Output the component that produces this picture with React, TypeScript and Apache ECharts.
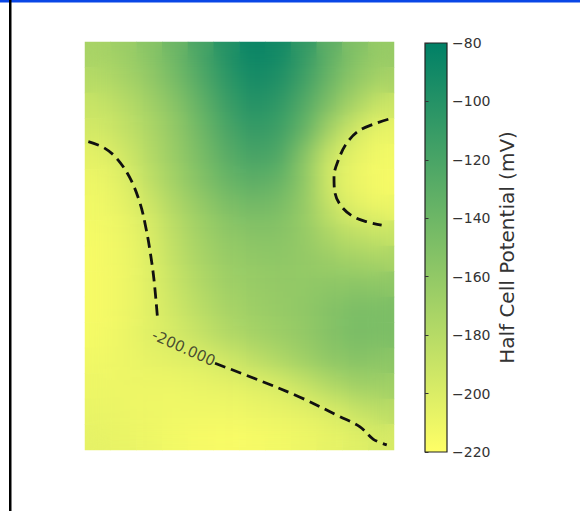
import React, { useEffect, useRef } from "react";
import * as echarts from "echarts";

// Half-cell potential field (mV), rows top -> bottom, columns left -> right
const row00 = [-172, -166, -156, -140, -120, -100, -86, -90, -108, -132, -152, -163];
const row01 = [-180, -173, -162, -146, -126, -106, -92, -97, -115, -140, -160, -172];
const row02 = [-190, -182, -170, -155, -135, -114, -100, -106, -126, -152, -175, -192];
const row03 = [-196, -188, -176, -161, -142, -122, -109, -114, -136, -172, -197, -208];
const row04 = [-205, -196, -180, -164, -147, -130, -119, -123, -155, -192, -207, -213];
const row05 = [-210, -203, -186, -169, -153, -139, -131, -136, -158, -196, -210, -215];
const row06 = [-212, -207, -195, -177, -163, -150, -144, -147, -162, -188, -204, -209];
const row07 = [-214, -210, -200, -183, -169, -159, -154, -154, -162, -176, -186, -190];
const row08 = [-215, -211, -202, -186, -173, -164, -160, -158, -161, -166, -171, -174];
const row09 = [-215, -211, -203, -190, -177, -168, -164, -161, -160, -158, -157, -158];
const row10 = [-215, -211, -204, -193, -182, -173, -167, -163, -159, -153, -148, -148];
const row11 = [-214, -210, -203, -197, -188, -178, -171, -166, -161, -153, -147, -148];
const row12 = [-212, -210, -207, -204, -201, -195, -186, -177, -168, -159, -154, -157];
const row13 = [-210, -210, -210, -210, -208, -206, -203, -199, -190, -179, -169, -168];
const row14 = [-208, -210, -211, -212, -212, -212, -210, -208, -205, -200, -191, -183];
const row15 = [-206, -208, -210, -213, -215, -216, -215, -213, -210, -207, -203, -198];
const fieldRows = [row00, row01, row02, row03, row04, row05, row06, row07, row08, row09, row10, row11, row12, row13, row14, row15];

// -200 mV contour paths, in cell units (x: column, y: row from top)
const contourLeft = [
  [0.13, 3.91], [0.71, 4.13], [1.23, 4.56], [1.75, 5.34], [2.14, 6.33],
  [2.37, 7.31], [2.55, 8.35], [2.68, 9.33], [2.81, 10.75],
];
const contourRight = [
  [11.78, 3.03], [10.68, 3.45], [10.16, 3.97], [9.84, 4.63], [9.67, 5.28],
  [9.71, 5.93], [9.97, 6.46], [10.42, 6.85], [10.94, 7.05], [11.52, 7.18],
];
const contourBottom = [
  [5.05, 12.6], [6.8, 13.28], [8.35, 13.93], [9.9, 14.69], [10.68, 15.09],
  [11.2, 15.58], [11.72, 15.8],
];
const contourLabelPoint = [[3.83, 12.0]];
const contourLevel = -200;

const colorMin = -220;
const colorMax = -80;
const colorStep = 20;
const colorbarTitle = "Half Cell Potential (mV)";
const lowColor = "#ffff66";
const highColor = "#008066";

const PLOT = { left: 85, top: 42, width: 309, height: 408 };

function heatData() {
  const out: number[][] = [];
  fieldRows.forEach((row, j) => row.forEach((v, i) => out.push([i, j, v])));
  return out;
}

function heatAxes(gridIndex: number) {
  return {
    x: { type: "category", gridIndex, data: fieldRows[0].map((_, i) => i), show: false },
    y: { type: "category", gridIndex, data: fieldRows.map((_, j) => j), inverse: true, show: false },
  };
}

const visual = {
  show: false, type: "continuous", min: colorMin, max: colorMax, seriesIndex: 0,
  inRange: { color: [lowColor, highColor] },
};

export default function App() {
  const baseRef = useRef<HTMLDivElement>(null);
  const smoothRef = useRef<HTMLDivElement>(null);
  const overRef = useRef<HTMLDivElement>(null);
  useEffect(() => {
    if (!baseRef.current || !smoothRef.current || !overRef.current) return;
    const base = echarts.init(baseRef.current, null, { renderer: "svg" });
    const smooth = echarts.init(smoothRef.current, null, { renderer: "svg" });
    const over = echarts.init(overRef.current, null, { renderer: "svg" });
    const nCols = fieldRows[0].length;
    const nRows = fieldRows.length;
    const a0 = heatAxes(0);

    base.setOption({
      animation: false,
      backgroundColor: "#ffffff",
      graphic: [
        { type: "rect", shape: { x: 0, y: 0, width: 580, height: 2.5 }, style: { fill: "#0a46e6" } },
        { type: "rect", shape: { x: 9, y: 0, width: 2.5, height: 511 }, style: { fill: "#000" } },
      ],
      grid: [
        { ...PLOT },
        {
          left: 425, top: 43, width: 22, height: 409, show: true,
          borderColor: "#222", borderWidth: 1.2,
          backgroundColor: new echarts.graphic.LinearGradient(0, 0, 0, 1, [
            { offset: 0, color: highColor },
            { offset: 1, color: lowColor },
          ]),
        },
      ],
      xAxis: [a0.x, { type: "value", gridIndex: 1, min: 0, max: 1, show: false }],
      yAxis: [
        a0.y,
        {
          type: "value", gridIndex: 1, min: colorMin, max: colorMax, interval: colorStep,
          position: "right",
          axisLine: { show: false },
          axisTick: { show: true, length: 3.5, lineStyle: { color: "#333" } },
          splitLine: { show: false },
          axisLabel: {
            color: "#333", fontSize: 14, fontFamily: "DejaVu Sans", margin: 5,
            formatter: (v: number) => String(v).replace("-", "\u2212"),
          },
          name: colorbarTitle,
          nameLocation: "middle",
          nameRotate: 90,
          nameGap: 50,
          nameTextStyle: { color: "#333", fontSize: 20, fontFamily: "DejaVu Sans" },
        },
      ],
      visualMap: visual,
      series: [
        { type: "heatmap", xAxisIndex: 0, yAxisIndex: 0, data: heatData(), itemStyle: { borderWidth: 0 } },
      ],
    });

    const s0 = heatAxes(0);
    smooth.setOption({
      animation: false,
      grid: { left: 0, top: 0, right: 0, bottom: 0 },
      xAxis: s0.x,
      yAxis: s0.y,
      visualMap: visual,
      series: [{ type: "heatmap", data: heatData(), itemStyle: { borderWidth: 0 } }],
    });

    const dashed = {
      type: "line",
      smooth: 0.35,
      symbol: "none",
      lineStyle: { color: "#111", width: 2.8, type: [11, 6] },
      z: 5,
    };
    over.setOption({
      animation: false,
      grid: { ...PLOT },
      xAxis: { type: "value", min: 0, max: nCols, show: false },
      yAxis: { type: "value", min: 0, max: nRows, inverse: true, show: false },
      series: [
        { ...dashed, data: contourLeft },
        { ...dashed, data: contourRight },
        { ...dashed, data: contourBottom },
        {
          type: "scatter", data: contourLabelPoint,
          symbolSize: 2, itemStyle: { color: "rgba(0,0,0,0)" }, z: 6,
          label: {
            show: true, position: "inside", rotate: -24,
            formatter: contourLevel.toFixed(3),
            color: "#222", fontSize: 15, fontFamily: "DejaVu Sans",
          },
        },
      ],
    });
    return () => {
      base.dispose();
      smooth.dispose();
      over.dispose();
    };
  }, []);
  return (
    <div style={{ position: "fixed", left: 0, top: 0, width: 580, height: 511 }}>
      <div ref={baseRef} style={{ position: "absolute", left: 0, top: 0, width: 580, height: 511 }} />
      <div
        style={{
          position: "absolute", left: PLOT.left, top: PLOT.top,
          width: PLOT.width, height: PLOT.height, overflow: "hidden",
        }}
      >
        <div ref={smoothRef} style={{ width: PLOT.width, height: PLOT.height, filter: "blur(11px)" }} />
      </div>
      <div
        ref={overRef}
        style={{ position: "absolute", left: 0, top: 0, width: 580, height: 511, pointerEvents: "none" }}
      />
    </div>
  );
}
